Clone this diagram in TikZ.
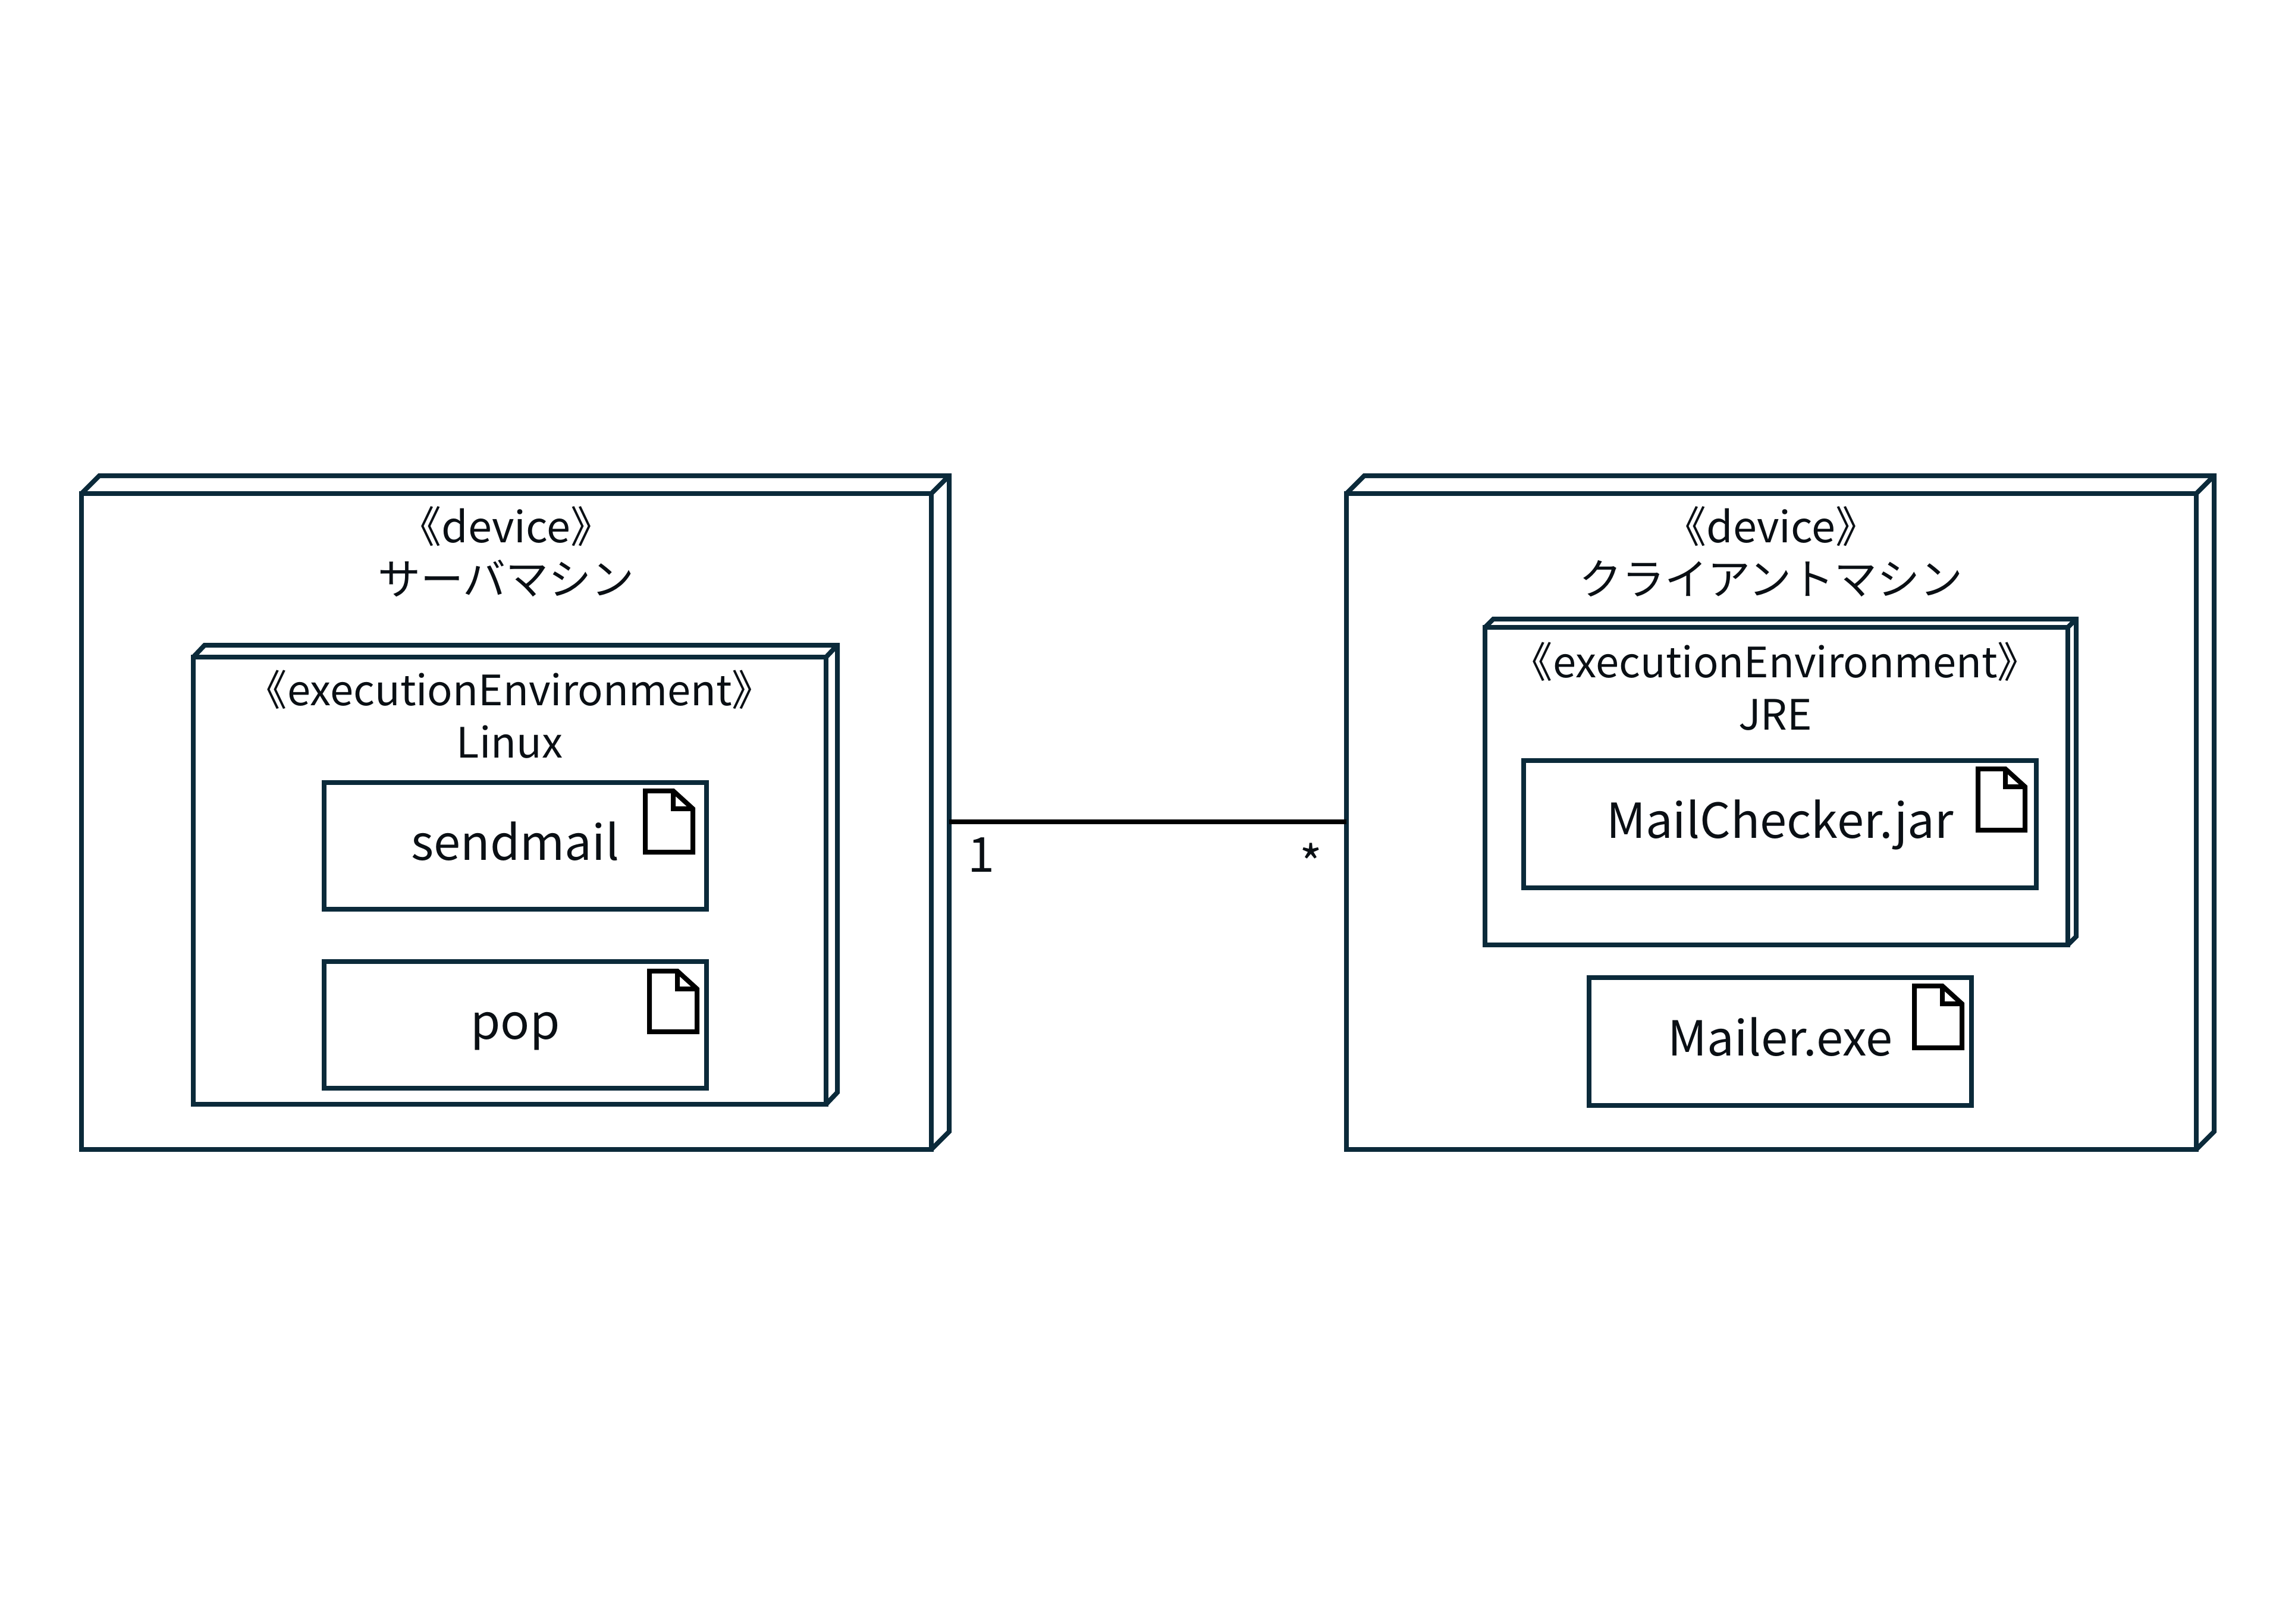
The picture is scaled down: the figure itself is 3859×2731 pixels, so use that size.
\documentclass[tikz,border=0pt]{standalone}
\usepackage{fontspec}
\setmainfont{Noto Sans CJK JP}
\definecolor{edge}{HTML}{0B2A3A}
\definecolor{ink}{HTML}{0A0F14}
\newcommand{\pxbox}[6]{% style, name, x1, y1, x2, y2
  \pgfmathsetmacro{\bw}{(#5-#3)*0.25}\pgfmathsetmacro{\bh}{(#6-#4)*0.25}
  \node[#1,minimum width=\bw pt,minimum height=\bh pt] (#2) at ({(#3+#5)/2},{(#4+#6)/2})}
\newcommand{\depthfaces}[3]{% name, dx, dy
  \draw[edge3d] (#1.north west) -- ++(#2,-#3) -- ([xshift=#2*0.25pt,yshift=#3*0.25pt]#1.north east) -- ([xshift=#2*0.25pt,yshift=#3*0.25pt]#1.south east) -- (#1.south east)
    (#1.north east) -- ++(#2,-#3);}
\newcommand{\fileicon}[5]{% name, x1, y1, x2, y2
  \pgfmathsetmacro{\bw}{(#4-#2)*0.25}\pgfmathsetmacro{\bh}{(#5-#3)*0.25}
  \node[iconbox,minimum width=\bw pt,minimum height=\bh pt] (#1) at ({(#2+#4)/2},{(#3+#5)/2}) {};
  \draw[iconline] (#1.north west) -- ([xshift=-33*0.25pt]#1.north east) -- ([yshift=-30*0.25pt]#1.north east) -- (#1.south east) -- (#1.south west) -- cycle
    ([xshift=-33*0.25pt]#1.north east) -- ([xshift=-33*0.25pt,yshift=-30*0.25pt]#1.north east) -- ([yshift=-30*0.25pt]#1.north east);}
\tikzset{
  x=0.25pt,y=-0.25pt,
  frontbox/.style={draw=edge,line width=2pt,fill=white,rectangle,inner sep=0pt,outer sep=0pt,text=ink},
  artifactbox/.style={frontbox,text height=14pt,text depth=2.2pt,font=\fontsize{20.3}{24}\selectfont},
  edge3d/.style={draw=edge,line width=2pt,line join=miter},
  iconbox/.style={rectangle,inner sep=0pt,outer sep=0pt},
  iconline/.style={draw=black,line width=2pt,line join=miter},
  caption/.style={anchor=north,align=center,text=ink,inner sep=0pt,font=\fontsize{18}{22}\selectfont},
  envcaption/.style={caption,font=\fontsize{17.6}{22}\selectfont},
  mult/.style={text=ink,inner sep=0pt,font=\fontsize{20.3}{24}\selectfont},
  link/.style={draw=black,line width=2pt}
}
\begin{document}
\begin{tikzpicture}
\useasboundingbox (0,0) rectangle (3859,2731);
\fill[white] (0,0) rectangle (3859,2731);
% server device
\pxbox{frontbox}{dev1}{137}{830}{1566}{1933}{};
\depthfaces{dev1}{30}{30}
\node[caption] (dev1cap) at (851,851) {《device》\\サーバマシン};
% Linux
\pxbox{frontbox}{env1}{325}{1105}{1389}{1857}{};
\depthfaces{env1}{19}{20}
\node[envcaption] (env1cap) at (857,1126) {《executionEnvironment》\\Linux};
\pxbox{artifactbox}{sendmail}{545}{1316}{1188}{1529}{sendmail};
\fileicon{icon1}{1085}{1330}{1165}{1433}
\pxbox{artifactbox}{pop}{545}{1617}{1188}{1830}{pop};
\fileicon{icon2}{1092}{1633}{1172}{1735}
% client device
\pxbox{frontbox}{dev2}{2264}{830}{3693}{1933}{};
\depthfaces{dev2}{30}{30}
\node[caption] (dev2cap) at (2978,851) {《device》\\クライアントマシン};
% JRE
\pxbox{frontbox}{env2}{2497}{1055}{3477}{1589}{};
\depthfaces{env2}{14}{14}
\node[envcaption] (env2cap) at (2985,1079) {《executionEnvironment》\\JRE};
\pxbox{artifactbox}{checker}{2562}{1279}{3424}{1493}{MailChecker.jar};
\fileicon{icon3}{3326}{1293}{3405}{1396}
\pxbox{artifactbox}{mailer}{2672}{1644}{3315}{1859}{Mailer.exe};
\fileicon{icon4}{3219}{1658}{3299}{1762}
% association
\coordinate (dev1side) at ([xshift=30*0.25pt]dev1.east);
\draw[link] (dev1side) -- (dev2.west);
\node[mult] (m1) at (1650,1438) {1};
\node[mult] (m2) at (2204,1450) {*};
\end{tikzpicture}
\end{document}
